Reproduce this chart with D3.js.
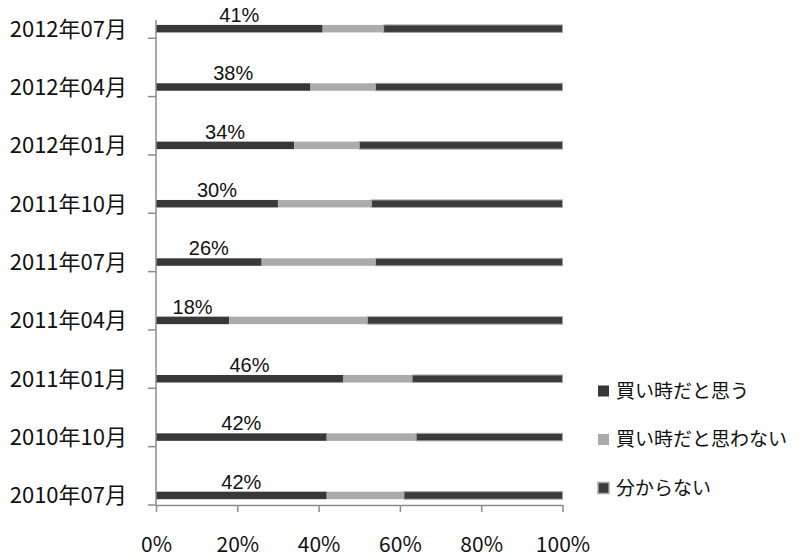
<!DOCTYPE html>
<html>
<head>
<meta charset="utf-8">
<script src="https://cdn.jsdelivr.net/npm/d3@7"></script>
<style>
  body { margin: 0; background: #fff; }
  svg { display: block; font-family: "Noto Sans CJK JP", "Noto Sans", sans-serif; }
</style>
</head>
<body>
<svg></svg>
<script>
const width = 800;
const height = 559;

// top to bottom, as drawn
const categories = ["2012年07月", "2012年04月", "2012年01月", "2011年10月", "2011年07月",
  "2011年04月", "2011年01月", "2010年10月", "2010年07月"];
const seriesNames = ["買い時だと思う", "買い時だと思わない", "分からない"];
const buyNow = [41, 38, 34, 30, 26, 18, 46, 42, 42];
const notBuyNow = [15, 16, 16, 23, 28, 34, 17, 22, 19];
const unknown = [44, 46, 50, 47, 46, 48, 37, 36, 39];
const xTicks = [0, 0.2, 0.4, 0.6, 0.8, 1];

const colors = ["#383838", "#ababab", "#3c3c3c"];
const strokes = ["none", "none", "#a6a6a6"];
const axisColor = "#8c8c8c";

const svg = d3.select("svg")
  .attr("width", width)
  .attr("height", height);

const rows = categories.map(function(c, i) {
  return { cat: c, buy: buyNow[i] / 100, notBuy: notBuyNow[i] / 100, unknown: unknown[i] / 100 };
});

const stack = d3.stack().keys(["buy", "notBuy", "unknown"]);
const layers = stack(rows);

const x = d3.scaleLinear().domain([0, 1]).range([156, 562.5]);
const y = d3.scaleBand().domain(categories).range([-20.1, 505]);

const barH = 7.5;
const barOffset = 0.836; // bar centre sits low in each band
function barCenter(cat) { return y(cat) + y.step() * barOffset; }

// bars
layers.forEach(function(layer, k) {
  svg.append("g")
    .selectAll("rect")
    .data(layer)
    .join("rect")
    .attr("x", function(d) { return x(d[0]); })
    .attr("y", function(d) { return barCenter(d.data.cat) - barH / 2; })
    .attr("width", function(d) { return x(d[1]) - x(d[0]); })
    .attr("height", barH)
    .attr("fill", colors[k])
    .attr("stroke", strokes[k])
    .attr("stroke-width", 1);
});

// data labels on first series
svg.append("g")
  .selectAll("text")
  .data(layers[0])
  .join("text")
  .attr("x", function(d) { return (x(d[0]) + x(d[1])) / 2; })
  .attr("y", function(d) { return barCenter(d.data.cat) - barH / 2 - 3; })
  .attr("text-anchor", "middle")
  .attr("font-size", 20)
  .attr("font-family", "\"Liberation Sans\", sans-serif")
  .attr("fill", "#111")
  .text(function(d) { return Math.round((d[1] - d[0]) * 100) + "%"; });

// y axis
const yAxis = svg.append("g");
yAxis.append("line")
  .attr("x1", x(0)).attr("x2", x(0))
  .attr("y1", 20).attr("y2", y.range()[1])
  .attr("stroke", axisColor)
  .attr("stroke-width", 1.5);

yAxis.selectAll("line.tick")
  .data(categories)
  .join("line")
  .attr("class", "tick")
  .attr("x1", x(0) - 8).attr("x2", x(0))
  .attr("y1", function(d) { return y(d) + y.step(); })
  .attr("y2", function(d) { return y(d) + y.step(); })
  .attr("stroke", axisColor)
  .attr("stroke-width", 1.5);

yAxis.selectAll("text")
  .data(categories)
  .join("text")
  .attr("x", 127)
  .attr("y", function(d) { return barCenter(d); })
  .attr("dy", "0.36em")
  .attr("text-anchor", "end")
  .attr("font-size", 22)
  .attr("fill", "#111")
  .text(function(d) { return d; });

// x axis
const xAxis = svg.append("g")
  .attr("transform", `translate(0, ${y.range()[1]})`)
  .call(d3.axisBottom(x)
    .tickValues(xTicks)
    .tickFormat(d3.format(".0%"))
    .tickSize(7)
    .tickSizeOuter(0)
    .tickPadding(25));

xAxis.select(".domain").attr("stroke", axisColor).attr("stroke-width", 1.5);
xAxis.selectAll(".tick line").attr("stroke", axisColor).attr("stroke-width", 1.5);
xAxis.selectAll(".tick text")
  .attr("font-size", 21)
  .attr("font-family", "\"Noto Sans CJK JP\", \"Noto Sans\", sans-serif")
  .attr("fill", "#111");

// legend
const legend = svg.append("g").attr("transform", "translate(598, 391)");
const item = legend.selectAll("g")
  .data(seriesNames)
  .join("g")
  .attr("transform", function(d, i) { return `translate(0, ${i * 48.5})`; });

item.append("rect")
  .attr("x", 0)
  .attr("y", -5.5)
  .attr("width", 11)
  .attr("height", 11)
  .attr("fill", function(d, i) { return colors[i]; })
  .attr("stroke", function(d, i) { return strokes[i]; })
  .attr("stroke-width", 1.5);

item.append("text")
  .attr("x", 18)
  .attr("y", 0)
  .attr("dy", "0.36em")
  .attr("font-size", 19)
  .attr("fill", "#111")
  .text(function(d) { return d; });
</script>
</body>
</html>
